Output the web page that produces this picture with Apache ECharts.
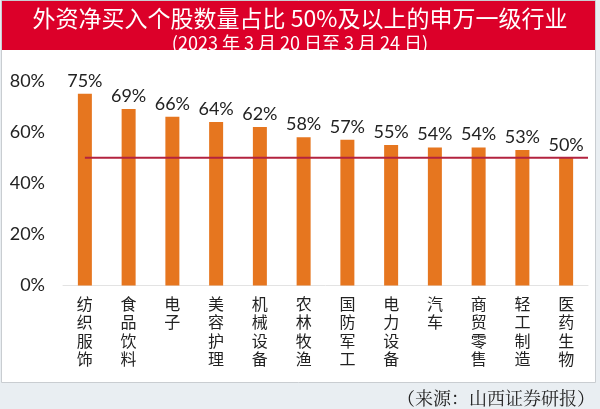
<!DOCTYPE html>
<html>
<head>
<meta charset="utf-8">
<script src="https://cdn.jsdelivr.net/npm/echarts@6/dist/echarts.min.js"></script>
<style>
html,body{margin:0;padding:0;background:#e9eef2;}
#chart{width:600px;height:409px;}
</style>
</head>
<body>
<div id="chart"></div>
<script>
const categories = ['纺织服饰','食品饮料','电子','美容护理','机械设备','农林牧渔','国防军工','电力设备','汽车','商贸零售','轻工制造','医药生物'];
const values = [75,69,66,64,62,58,57,55,54,54,53,50];
const threshold = 50;
const yMin = 0, yMax = 80, yStep = 20;
const titleText = '外资净买入个股数量占比 50%及以上的申万一级行业';
const subtitleText = '(2023 年 3 月 20 日至 3 月 24 日)';
const sourceText = '（来源：山西证券研报）';

const chart = echarts.init(document.getElementById('chart'), null, {renderer:'canvas'});
const cjk = '"Noto Sans CJK SC", "Noto Sans", sans-serif';
const num = 'Lato, "Noto Sans CJK SC", sans-serif';

// threshold line: from the first category centre to the right end of the axis
const thresholdLine = [[0, threshold], [categories.length - 0.5, threshold]];

chart.setOption({
  backgroundColor: '#e9eef2',
  animation: false,
  graphic: [
    {type:'rect', z:-10, shape:{x:1.5, y:0.5, width:594, height:382}, style:{fill:'#ffffff', stroke:'#c9cdd1', lineWidth:1}},
    {type:'rect', z:-9, shape:{x:2, y:1, width:593, height:49}, style:{fill:'#dc0029'}}
  ],
  title: [
    {text: titleText, left:'center', top:2, textStyle:{color:'#ffffff', fontSize:23, fontWeight:'normal', fontFamily:cjk}},
    {text: subtitleText, left:'center', top:29, textStyle:{color:'#ffffff', fontSize:18, fontWeight:'normal', fontFamily:cjk}},
    {text: sourceText, right:0, top:384, textStyle:{color:'#222222', fontSize:18, fontWeight:'normal', fontFamily:'"Noto Serif CJK SC", serif'}}
  ],
  grid: {left:63, right:12, top:81, bottom:123.5, containLabel:false},
  xAxis: [{
    type:'category',
    data: categories,
    axisLine:{show:true, lineStyle:{color:'#e3e3e3', width:1}},
    axisTick:{show:false},
    axisLabel:{
      interval:0, margin:9, color:'#222222', fontSize:16, lineHeight:18.5, fontFamily:cjk,
      formatter: v => v.split('').join('\n'),
      verticalAlign:'top'
    }
  }, {
    type:'value', min:-0.5, max:categories.length - 0.5, show:false
  }],
  yAxis: {
    type:'value', min:yMin, max:yMax, interval:yStep,
    splitLine:{show:false}, axisLine:{show:false}, axisTick:{show:false},
    axisLabel:{formatter:'{value}%', color:'#222222', fontSize:18, fontFamily:num, margin:18}
  },
  series: [{
    type:'bar',
    data: values,
    barWidth:14,
    itemStyle:{color:'#e6761f'},
    label:{show:true, position:'top', distance:4, formatter:'{c}%', color:'#222222', fontSize:18, fontFamily:num}
  }, {
    type:'line',
    xAxisIndex:1,
    data: thresholdLine,
    symbol:'none',
    silent:true,
    z:5,
    lineStyle:{color:'#b3233f', width:2, type:'solid'}
  }]
});
</script>
</body>
</html>
